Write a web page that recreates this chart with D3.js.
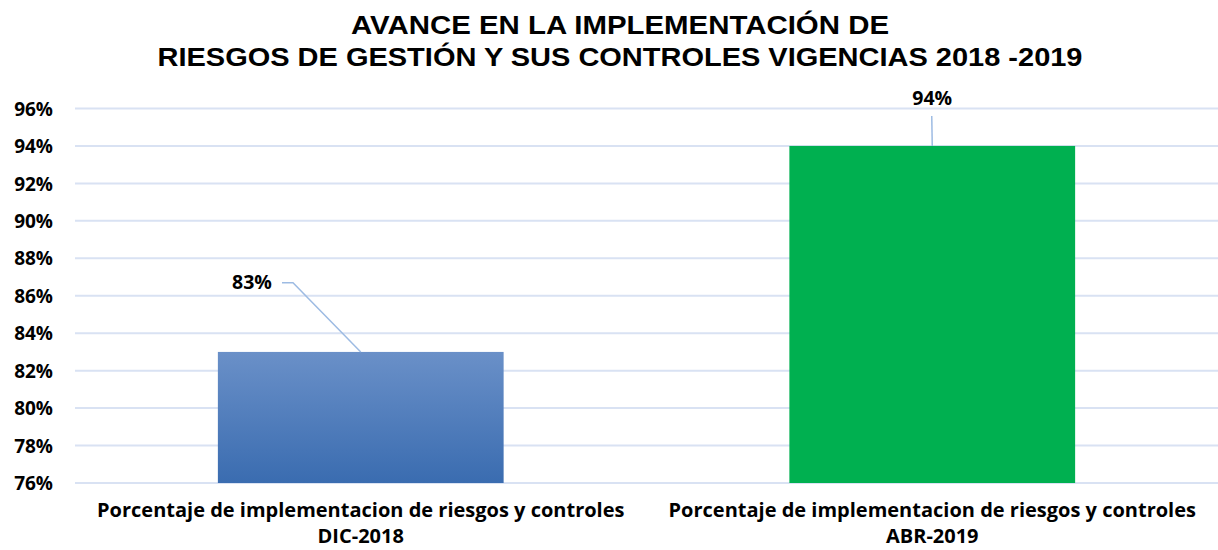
<!DOCTYPE html>
<html><head><meta charset="utf-8">
<script src="https://cdn.jsdelivr.net/npm/d3@7"></script>
<style>body{margin:0;background:#fff}</style>
</head><body>
<svg id="c" width="1218" height="550"></svg>
<script>
const titleLines = ["AVANCE EN LA IMPLEMENTACIÓN DE", "RIESGOS DE GESTIÓN Y SUS CONTROLES VIGENCIAS 2018 -2019"];
const categories = ["Porcentaje de implementacion de riesgos y controles|DIC-2018", "Porcentaje de implementacion de riesgos y controles|ABR-2019"];
const values = [0.83, 0.94];
const labels = ["83%", "94%"];
const yTicks = [0.76,0.78,0.80,0.82,0.84,0.86,0.88,0.90,0.92,0.94,0.96];

const svg = d3.select("#c");
const defs = svg.append("defs");
const g1 = defs.append("linearGradient").attr("id","gBlue").attr("x1",0).attr("y1",0).attr("x2",0).attr("y2",1);
g1.append("stop").attr("offset","0%").attr("stop-color","#6a90c8");
g1.append("stop").attr("offset","100%").attr("stop-color","#3a6cb0");
const fills = ["url(#gBlue)", "#00b050"];
const FONT = "'Open Sans', Lato, sans-serif";

const x = d3.scaleBand().domain(categories).range([75, 1218]).paddingInner(0.5).paddingOuter(0.25);
const y = d3.scaleLinear().domain([0.76, 0.96]).range([483, 108.5]);

// gridlines
svg.append("g").selectAll("line").data(yTicks).join("line")
  .attr("x1", 75).attr("x2", 1218)
  .attr("y1", d => y(d)).attr("y2", d => y(d))
  .attr("stroke", "#d9e2f3").attr("stroke-width", 2);

// y axis labels
const yAxis = d3.axisLeft(y).tickValues(yTicks).tickFormat(d3.format(".0%")).tickSize(0).tickPadding(0);
const ya = svg.append("g").attr("transform","translate(53,0)").call(yAxis);
ya.select(".domain").remove();
ya.selectAll("text").attr("font-family",FONT).attr("font-weight","bold")
  .attr("font-size","19px").attr("fill","#000").attr("dy","0.35em");

// bars
svg.append("g").selectAll("rect").data(values).join("rect")
  .attr("x", (d,i) => x(categories[i])).attr("width", x.bandwidth())
  .attr("y", d => y(d)).attr("height", d => y(0.76) - y(d))
  .attr("fill", (d,i) => fills[i]);

// x labels
const xl = svg.append("g");
categories.forEach((c,i) => {
  const parts = c.split("|");
  const t = xl.append("text").attr("text-anchor","middle")
    .attr("font-family",FONT).attr("font-weight","bold").attr("font-size","20px").attr("fill","#000");
  t.append("tspan").attr("x", x(c) + x.bandwidth()/2).attr("y", 517).text(parts[0]);
  t.append("tspan").attr("x", x(c) + x.bandwidth()/2).attr("y", 543).text(parts[1]);
});

// data labels with leader lines
const cx0 = x(categories[0]) + x.bandwidth()/2;
const cx1 = x(categories[1]) + x.bandwidth()/2;
svg.append("polyline")
  .attr("points", [[282, y(0.867)], [293, y(0.867)], [cx0, y(values[0])]].map(p=>p.join(",")).join(" "))
  .attr("fill","none").attr("stroke","#9dbbe3").attr("stroke-width",1.5);
svg.append("line").attr("x1", cx1-0.5).attr("x2", cx1).attr("y1", 116).attr("y2", y(values[1]))
  .attr("stroke","#9dbbe3").attr("stroke-width",1.5);
const lblPos = [[252, y(0.867)], [cx1, 98]];
svg.append("g").selectAll("text").data(labels).join("text")
  .attr("x", (d,i) => lblPos[i][0]).attr("y", (d,i) => lblPos[i][1]).attr("dy","0.35em")
  .attr("text-anchor","middle").attr("font-family",FONT).attr("font-weight","bold")
  .attr("font-size","19.5px").attr("fill","#000").text(d => d);

// title
const tw = [538, 925];
svg.append("g").selectAll("text").data(titleLines).join("text")
  .attr("x", 620).attr("y", (d,i) => i === 0 ? 34 : 66)
  .attr("text-anchor","middle").attr("font-family","Liberation Sans, Arial, sans-serif")
  .attr("font-weight","bold").attr("font-size","26.5px").attr("fill","#000")
  .attr("textLength", (d,i) => tw[i]).attr("lengthAdjust","spacingAndGlyphs")
  .text(d => d);
</script>
</body></html>
